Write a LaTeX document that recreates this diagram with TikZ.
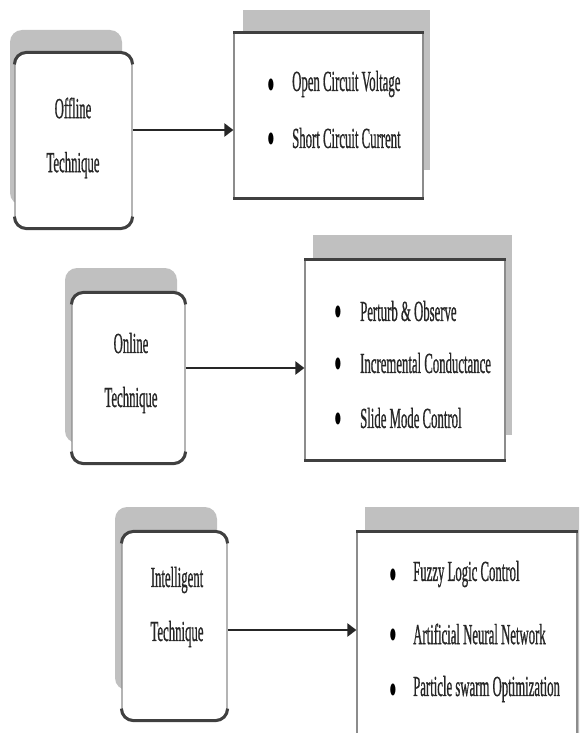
\documentclass[tikz,border=0pt]{standalone}
\usepackage{fontspec}
\setmainfont{Liberation Serif}
\newfontfamily\lettering[FakeBold=1.2]{Liberation Serif}
\usetikzlibrary{arrows.meta}
\definecolor{shade}{RGB}{192,192,192}
\newcommand{\cnd}[1]{\scalebox{0.44}[1]{#1}}

\begin{document}
\begin{tikzpicture}[x=1pt,y=-1pt]
        \tikzstyle{techshadow}=[fill=shade,rounded corners=12pt,inner sep=0pt]
        \tikzstyle{techbox}=[draw=black!45,line width=1.2pt,fill=white,rounded corners=12pt,inner sep=0pt]
        \tikzstyle{listshadow}=[fill=shade,inner sep=0pt]
        \tikzstyle{listbox}=[draw=black!45,line width=1.2pt,fill=white,inner sep=0pt]
        \tikzstyle{rim}=[draw=black!75,line width=3pt,rounded corners=12pt]
        \tikzstyle{techname}=[align=center,text=black!85,font=\lettering\fontsize{29}{54}\selectfont]
        \tikzstyle{dot}=[text=black,font=\fontsize{50}{50}\selectfont,inner sep=0pt,yshift=-7pt]
        \tikzstyle{itemtext}=[anchor=west,text=black!85,font=\lettering\fontsize{29}{34}\selectfont,inner sep=0pt]
        \tikzstyle{edge}=[draw=black!85,line width=2.6pt,-{Triangle[length=9pt,width=13pt]}]
        \useasboundingbox (0,0) rectangle (579,733);
        \clip (0,0) rectangle (579,733);
       % offline
         \node [techshadow,minimum width=112pt,minimum height=175pt] (o1s) at (66,117.5) {};
         \node [techbox,minimum width=117pt,minimum height=175pt] (o1) at (73.5,140.5) {};
         \path[rim] ([yshift=-12pt]o1.north west) |- (o1.north) -| ([yshift=-12pt]o1.north east);
         \path[rim] ([yshift=12pt]o1.south west) |- (o1.south) -| ([yshift=12pt]o1.south east);
         \node [techname] (o1t) at (73,138) {\cnd{Offline}\\\cnd{Technique}};
         \node [listshadow,minimum width=187pt,minimum height=160pt] (l1s) at (336.5,90) {};
         \node [listbox,minimum width=189pt,minimum height=165pt] (l1) at (328.5,115.5) {};
         \path[rim] (l1.north west) -- (l1.north east);
         \path[rim] (l1.south west) -- (l1.south east);
         \node [dot] (b11) at (271,83) {\cnd{•}};
         \node [itemtext] (i11) at (292,84) {\cnd{Open Circuit Voltage}};
         \node [dot] (b12) at (271,137) {\cnd{•}};
         \node [itemtext] (i12) at (292,138) {\cnd{Short Circuit Current}};
         \path[edge] ([yshift=10.5pt]o1.east) -- ([yshift=10.5pt]o1.east -| l1.west);
       % online
         \node [techshadow,minimum width=112pt,minimum height=175pt] (o2s) at (121,355.5) {};
         \node [techbox,minimum width=113pt,minimum height=170pt] (o2) at (128.5,378) {};
         \path[rim] ([yshift=-12pt]o2.north west) |- (o2.north) -| ([yshift=-12pt]o2.north east);
         \path[rim] ([yshift=12pt]o2.south west) |- (o2.south) -| ([yshift=12pt]o2.south east);
         \node [techname] (o2t) at (131,373) {\cnd{Online}\\\cnd{Technique}};
         \node [listshadow,minimum width=199pt,minimum height=200pt] (l2s) at (412.5,335) {};
         \node [listbox,minimum width=200pt,minimum height=200pt] (l2) at (405,360) {};
         \path[rim] (l2.north west) -- (l2.north east);
         \path[rim] (l2.south west) -- (l2.south east);
         \node [dot] (b21) at (338,310) {\cnd{•}};
         \node [itemtext] (i21) at (360,311) {\cnd{Perturb \& Observe}};
         \node [dot] (b22) at (338,362) {\cnd{•}};
         \node [itemtext] (i22) at (360,363) {\cnd{Incremental Conductance}};
         \node [dot] (b23) at (338,417) {\cnd{•}};
         \node [itemtext] (i23) at (360,418) {\cnd{Slide Mode Control}};
         \path[edge] ([yshift=10pt]o2.east) -- ([yshift=10pt]o2.east -| l2.west);
       % intelligent
         \node [techshadow,minimum width=102pt,minimum height=183pt] (o3s) at (166,598.5) {};
         \node [techbox,minimum width=105pt,minimum height=188pt] (o3) at (174.5,626) {};
         \path[rim] ([yshift=-12pt]o3.north west) |- (o3.north) -| ([yshift=-12pt]o3.north east);
         \path[rim] ([yshift=12pt]o3.south west) |- (o3.south) -| ([yshift=12pt]o3.south east);
         \node [techname] (o3t) at (177,607) {\cnd{Intelligent}\\\cnd{Technique}};
         \node [listshadow,minimum width=235pt,minimum height=253pt] (l3s) at (482.5,633.5) {};
         \node [listbox,minimum width=220pt,minimum height=248pt] (l3) at (467,656) {};
         \path[rim] (l3.north west) -- (l3.north east);
         \node [dot] (b31) at (393,573) {\cnd{•}};
         \node [itemtext] (i31) at (413,574) {\cnd{Fuzzy Logic Control}};
         \node [dot] (b32) at (393,633) {\cnd{•}};
         \node [itemtext] (i32) at (413,634) {\cnd{Artificial Neural Network}};
         \node [dot] (b33) at (393,688) {\cnd{•}};
         \node [itemtext] (i33) at (413,689) {\cnd{Particle swarm Optimization}};
         \path[edge] ([yshift=-4pt]o3.east) -- ([yshift=-4pt]o3.east -| l3.west);
      \end{tikzpicture}
\end{document}
